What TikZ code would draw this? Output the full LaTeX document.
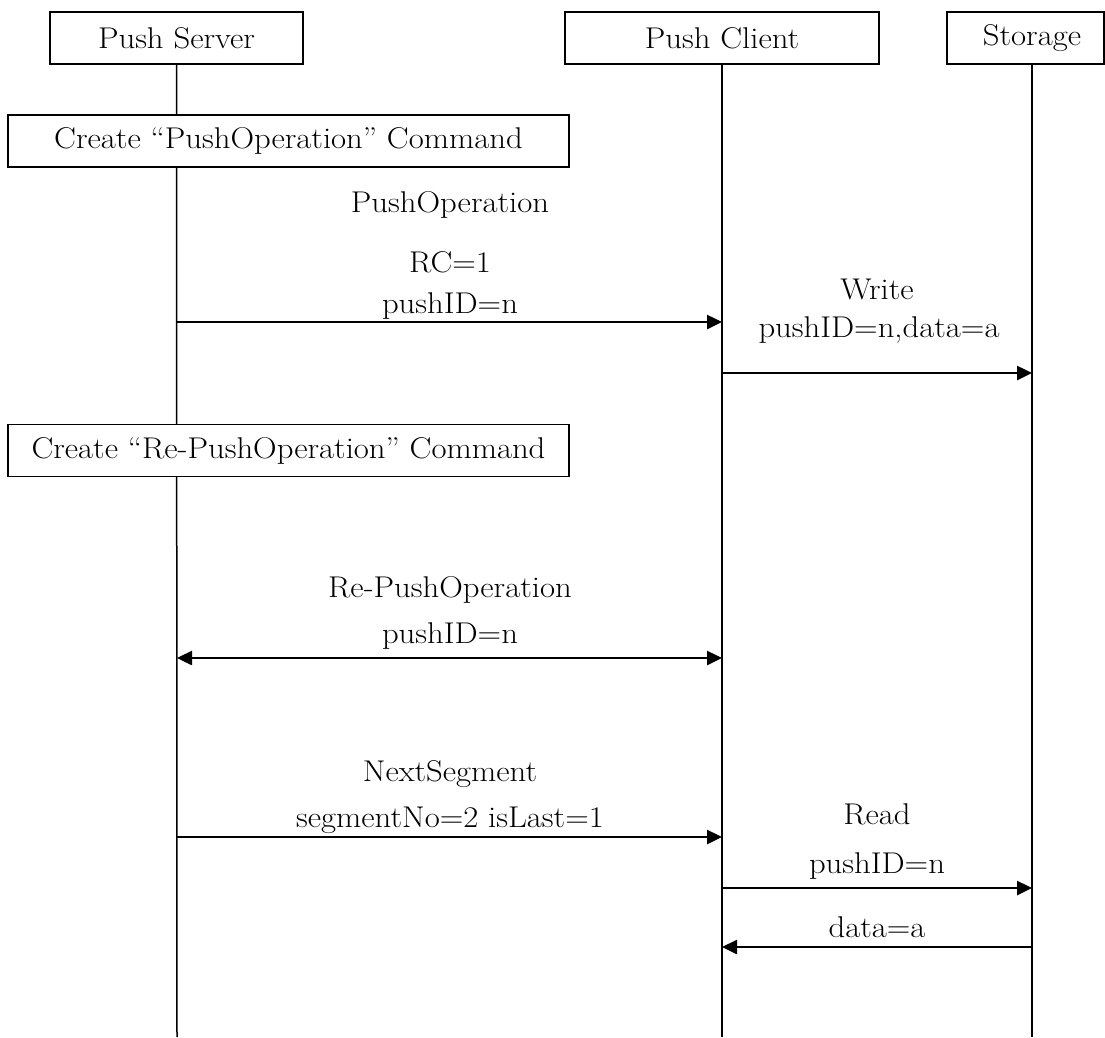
\documentclass[tikz,border=0pt]{standalone}
\usepackage{fontspec}
\setmainfont{Latin Modern Roman}[FakeStretch=1.09]
\usetikzlibrary{arrows.meta}
\begin{document}
\begin{tikzpicture}[x=1pt,y=-1pt,
  lbl/.style={font=\fontsize{30}{35}\selectfont, inner sep=0pt, anchor=base},
  box/.style={draw, line width=1.6pt, fill=white, minimum height=52pt,
              inner sep=0pt, font=\fontsize{30}{35}\selectfont},
  life/.style={line width=1.5pt},
  msg/.style={line width=2.5pt, -{Triangle[length=15pt,width=14pt]}},
  bimsg/.style={line width=2.5pt, {Triangle[length=15pt,width=14pt]}-{Triangle[length=15pt,width=14pt]}}]
\useasboundingbox (0,0) rectangle (1105,1037);

% lifeline ends
\coordinate (sEnd) at (177,1037);
\coordinate (cEnd) at (722,1037);
\coordinate (tEnd) at (1032,1037);

% participants
\node[box, minimum width=253pt] (server) at (176.5,38) {Push Server};
\node[box, minimum width=314pt] (client) at (722,38) {Push Client};
\node[box, minimum width=157pt] (storage) at (1025.5,38) {};
\node[font=\fontsize{30}{35}\selectfont, inner sep=0pt] (storageLbl) at (1032,38) {Storage};

% lifelines
\draw[life] (server.south) -- (sEnd);
\draw[life] (client.south) -- (cEnd);
\draw[life] (storage.south -| tEnd) -- (tEnd);

% local actions on the server
\node[box, minimum width=561pt] (mkPush) at (288.5,141) {Create “PushOperation” Command};
\node[box, minimum width=561pt] (mkRePush) at (288.5,450.5) {Create “Re-PushOperation” Command};

% message anchor points on the lifelines
\coordinate (s1) at (177,322);  \coordinate (c1) at (722,322);
\coordinate (c2) at (722,373);  \coordinate (t2) at (1032,373);
\coordinate (s3) at (177,658);  \coordinate (c3) at (722,658);
\coordinate (s4) at (177,837);  \coordinate (c4) at (722,837);
\coordinate (c5) at (722,888);  \coordinate (t5) at (1032,888);
\coordinate (c6) at (722,947);  \coordinate (t6) at (1032,947);

% PushOperation
\node[lbl] (m1a) at (450,212) {PushOperation};
\node[lbl] (m1b) at (450,272) {RC=1};
\node[lbl] (m1c) at (450,313) {pushID=n};
\draw[msg] (s1) -- (c1);

% Write
\node[lbl] (m2a) at (877,299) {Write};
\node[lbl] (m2b) at (879,337) {pushID=n,data=a};
\draw[msg] (c2) -- (t2);

% Re-PushOperation
\node[lbl] (m3a) at (450,597) {Re-PushOperation};
\node[lbl] (m3b) at (450,643) {pushID=n};
\draw[bimsg] (s3) -- (c3);

% NextSegment
\node[lbl] (m4a) at (450,781) {NextSegment};
\node[lbl] (m4b) at (450,827) {segmentNo=2 isLast=1};
\draw[msg] (s4) -- (c4);

% Read
\node[lbl] (m5a) at (877,824) {Read};
\node[lbl] (m5b) at (877,873) {pushID=n};
\draw[msg] (c5) -- (t5);

% data
\node[lbl] (m6a) at (877,937) {data=a};
\draw[msg] (t6) -- (c6);
\end{tikzpicture}
\end{document}
